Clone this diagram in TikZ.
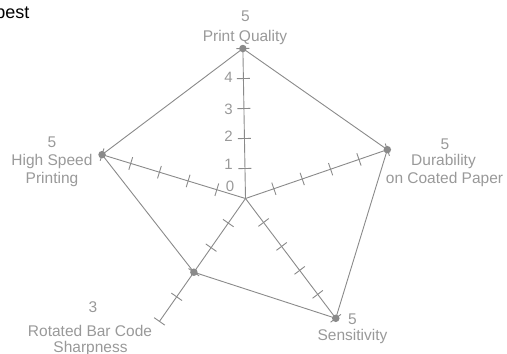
\documentclass[tikz,border=0pt]{standalone}
\usepackage{fontspec}
\setmainfont{Liberation Sans}
\usetikzlibrary{calc}
\definecolor{axisgray}{HTML}{8A8A8A}
\definecolor{labelgray}{HTML}{999999}
\begin{document}
\begin{tikzpicture}[x=1pt,y=-1pt,
  axisline/.style={draw=axisgray,line width=0.9pt},
  polyline/.style={draw=axisgray,line width=0.9pt,line join=round},
  datadot/.style={circle,fill=axisgray,inner sep=0pt,minimum size=7.5pt},
  lbl/.style={text=labelgray,font=\fontsize{15.5}{17}\selectfont,inner sep=0pt,anchor=base},
  ticklbl/.style={text=labelgray,font=\fontsize{15}{17}\selectfont,inner sep=0pt,anchor=center}]
\useasboundingbox (0,0) rectangle (507,354);
\coordinate (c) at (245.5,198.5);
% axes with ticks (angles in standard orientation, negated because y points down)
\foreach \t in {91,19,-53,235,163} {
  \draw[axisline] (c) -- ($(c)+(-\t:150)$);
  \foreach \k in {1,...,5}
    \draw[axisline] ($(c)+(-\t:30*\k)+(-\t+90:6.5)$) -- ($(c)+(-\t:30*\k)+(-\t-90:6.5)$);
}
% data points
\coordinate (pq) at ($(c)+(-91:150)$);
\coordinate (du) at ($(c)+(-19:150)$);
\coordinate (se) at ($(c)+(53:150)$);
\coordinate (ro) at ($(c)+(-235:90)$);
\coordinate (hs) at ($(c)+(-163:150)$);
\draw[polyline] (pq) -- (du) -- (se) -- (ro) -- (hs) -- cycle;
\foreach \p in {pq,du,se,ro,hs} \node[datadot] at (\p) {};
% tick labels
\node[ticklbl] (t0) at (230,186.5) {0};
\node[ticklbl] (t1) at (228.5,164) {1};
\node[ticklbl] (t2) at (228.5,136) {2};
\node[ticklbl] (t3) at (228.5,109) {3};
\node[ticklbl] (t4) at (228.5,77) {4};
% axis labels
\node[lbl] (pqv) at (245.5,21.5) {5};
\node[lbl] (pqn) at (245,41) {Print Quality};
\node[lbl] (duv) at (445,149) {5};
\node[lbl] (dun) at (443.5,165.5) {Durability};
\node[lbl] (dun2) at (444.5,183) {on Coated Paper};
\node[lbl] (sev) at (352.5,324.3) {5};
\node[lbl] (sen) at (352.5,340.7) {Sensitivity};
\node[lbl] (rov) at (93,312.7) {3};
\node[lbl] (ron) at (90,336.7) {Rotated Bar Code};
\node[lbl] (ron2) at (90.5,352.7) {Sharpness};
\node[lbl] (hsv) at (52,147) {5};
\node[lbl] (hsn) at (52,165.5) {High Speed};
\node[lbl] (hsn2) at (52,183) {Printing};
% clipped title fragment
\node[inner sep=0pt,anchor=base east,font=\fontsize{18}{20}\selectfont] (best) at (29.5,18.5) {best};
\end{tikzpicture}
\end{document}
